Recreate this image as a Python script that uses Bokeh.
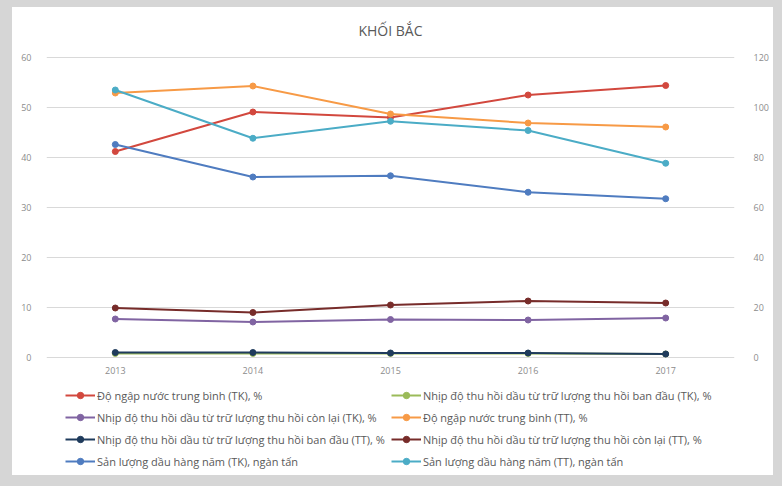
from bokeh.plotting import figure
from bokeh.models import (Range1d, LinearAxis, FixedTicker, Legend, LegendItem, Label)
from bokeh.layouts import column
from bokeh.embed import file_html
from bokeh.resources import INLINE

# Years on the category axis
years = [2013, 2014, 2015, 2016, 2017]

# Left axis series (%)
ngap_nuoc_tk = [41.2, 49.1, 48.0, 52.5, 54.4]
thu_hoi_ban_dau_tk = [0.8, 0.8, 0.8, 0.8, 0.7]
thu_hoi_con_lai_tk = [7.7, 7.1, 7.6, 7.5, 7.9]
ngap_nuoc_tt = [52.9, 54.3, 48.7, 46.9, 46.1]
thu_hoi_ban_dau_tt = [1.0, 1.0, 0.9, 0.9, 0.7]
thu_hoi_con_lai_tt = [9.9, 9.0, 10.5, 11.3, 10.9]

# Right axis series (thousand tonnes)
san_luong_tk = [85.2, 72.2, 72.7, 66.1, 63.5]
san_luong_tt = [107.0, 87.7, 94.5, 90.8, 77.7]

left_ticks = [0, 10, 20, 30, 40, 50, 60]
right_ticks = [0, 20, 40, 60, 80, 100, 120]

FONT = "Open Sans"
TEXT = "#595959"
TICK = "#8c8c8c"
GRID = "#d9d9d9"

# The frame covers the whole card height so that the title and the legend can
# sit inside it; the value axes keep 0..60 and 0..120 with 5 px per left unit.
LEFT_MIN, LEFT_MAX = -23.6, 70
p = figure(width=761, height=468, output_backend="svg", toolbar_location=None,
           x_range=Range1d(2012.5, 2017.5), y_range=Range1d(LEFT_MIN, LEFT_MAX),
           min_border_left=34, min_border_right=39, min_border_top=0,
           min_border_bottom=0, background_fill_color="white",
           border_fill_color="white", outline_line_color=None)
p.styles = {"background-color": "white"}
p.extra_y_ranges = {"right": Range1d(LEFT_MIN * 2, LEFT_MAX * 2)}

p.add_layout(Label(x=2015, y=445, y_units="screen", text="KHỐI BẮC",
                   text_align="center", text_baseline="middle",
                   text_font=FONT, text_font_size="14px", text_color=TEXT))

p.xaxis.ticker = FixedTicker(ticks=years)
p.xaxis.fixed_location = 0
p.yaxis.ticker = FixedTicker(ticks=left_ticks)
right_axis = LinearAxis(y_range_name="right", ticker=FixedTicker(ticks=right_ticks))
p.add_layout(right_axis, "right")

for ax in p.axis:
    ax.axis_line_color = None
    ax.major_tick_line_color = None
    ax.minor_tick_line_color = None
    ax.major_label_text_font = FONT
    ax.major_label_text_font_size = "9px"
    ax.major_label_text_color = TICK
    ax.major_label_standoff = 9
p.xaxis.major_label_standoff = 3
right_axis.major_label_standoff = 13

p.xgrid.grid_line_color = None
p.ygrid.grid_line_color = GRID
p.ygrid.grid_line_width = 1

series = [
    ("Độ ngập nước trung bình (TK), %", ngap_nuoc_tk, "#d2483e", "default"),
    ("Nhịp độ thu hồi dầu từ trữ lượng thu hồi ban đầu (TK), %", thu_hoi_ban_dau_tk, "#9bbb59", "default"),
    ("Nhịp độ thu hồi dầu từ trữ lượng thu hồi còn lại (TK), %", thu_hoi_con_lai_tk, "#8064a2", "default"),
    ("Độ ngập nước trung bình (TT), %", ngap_nuoc_tt, "#f79a46", "default"),
    ("Nhịp độ thu hồi dầu từ trữ lượng thu hồi ban đầu (TT), %", thu_hoi_ban_dau_tt, "#1f3b5c", "default"),
    ("Nhịp độ thu hồi dầu từ trữ lượng thu hồi còn lại (TT), %", thu_hoi_con_lai_tt, "#772c2a", "default"),
    ("Sản lượng dầu hàng năm (TK), ngàn tấn", san_luong_tk, "#4f7cc0", "right"),
    ("Sản lượng dầu hàng năm (TT), ngàn tấn", san_luong_tt, "#4bacc6", "right"),
]

items = []
for label, vals, color, rng in series:
    ln = p.line(years, vals, line_color=color, line_width=2, y_range_name=rng)
    mk = p.scatter(years, vals, marker="circle", size=6, fill_color=color,
                   line_color=color, y_range_name=rng)
    items.append(LegendItem(label=label, renderers=[ln, mk]))

# The legend fills column by column; reorder so the entries read across rows
legend_items = items[0::2] + items[1::2]

# Two-column legend under the x axis, anchored by its bottom-left corner
legend = Legend(items=legend_items, ncols=2, location=(19, 6),
                label_text_font=FONT, label_text_font_size="11px",
                label_text_color=TEXT, glyph_width=30, glyph_height=16,
                label_height=16, label_standoff=2, spacing=6, padding=0,
                margin=0, border_line_color=None, background_fill_alpha=0)
p.add_layout(legend, "center")

page = column(p, styles={"background-color": "#d6d6d6",
                         "padding": "7px 9px 11px 12px"})

open("out.html", "w").write(file_html(page, INLINE))
